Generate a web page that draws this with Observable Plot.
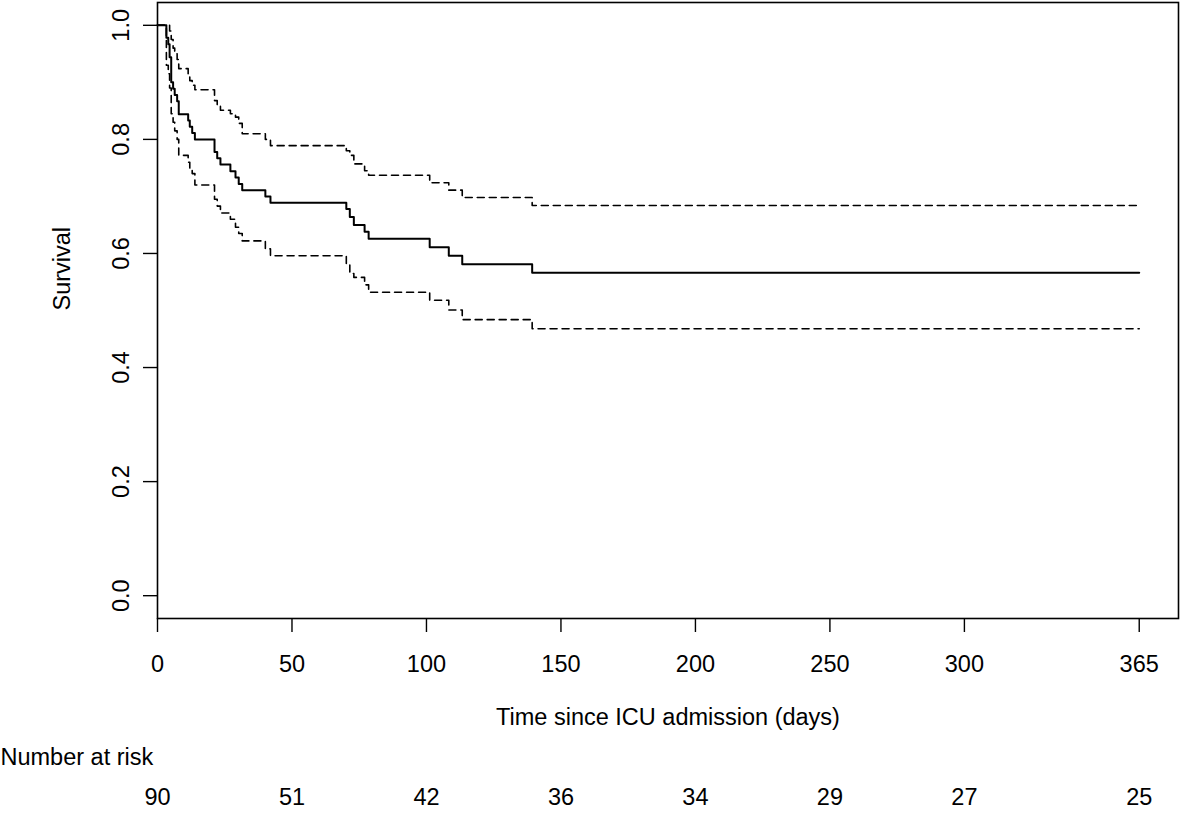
<!DOCTYPE html>
<html><head><meta charset="utf-8">
<script src="https://cdn.jsdelivr.net/npm/d3@7"></script>
<script src="https://cdn.jsdelivr.net/npm/@observablehq/plot@0.6"></script>
<style>body{margin:0;background:#fff}</style>
</head><body><div id="chart"></div>
<script>
// Kaplan-Meier estimate (days since ICU admission)
const time     = [0,3.3,4,4.5,5.1,5.8,6.4,7.3,7.9, 11.4,12,12.9,13.9, 21.2,22.2,23.4,27.1,29,30.2,31.5, 40.1,42, 70.2,71.5,73,77,78.5, 101.2,108.3,113.3,139.3, 365];
const survival = [1,0.978,0.967,0.944,0.9,0.889,0.878,0.867,0.844, 0.833,0.822,0.811,0.8, 0.778,0.767,0.756,0.744,0.733,0.722,0.711, 0.7,0.689, 0.678,0.664,0.65,0.638,0.626, 0.611,0.596,0.581,0.566, 0.566];
const upper    = [1,1,1,0.99,0.975,0.96,0.95,0.94,0.924, 0.912,0.903,0.895,0.887, 0.868,0.86,0.851,0.845,0.839,0.828,0.81, 0.8,0.789, 0.78,0.772,0.757,0.745,0.737, 0.724,0.711,0.698,0.684, 0.684];
const lower    = [1,0.93,0.915,0.89,0.845,0.83,0.815,0.8,0.772, 0.76,0.75,0.74,0.72, 0.695,0.683,0.671,0.66,0.646,0.635,0.622, 0.608,0.596, 0.58,0.565,0.558,0.545,0.532, 0.518,0.501,0.484,0.468, 0.468];
const xTicks = [0,50,100,150,200,250,300,365];
const yTicks = [0,0.2,0.4,0.6,0.8,1.0];
const riskTimes  = [0,50,100,150,200,250,300,365];
const riskCounts = [90,51,42,36,34,29,27,25];

const rows = time.map((t,i)=>({t, s: survival[i], u: upper[i], l: lower[i]}));
const risk = riskTimes.map((t,i)=>({t, n: riskCounts[i]}));

const chart = Plot.plot({
  width: 1181, height: 814,
  marginLeft: 157, marginRight: 3, marginTop: 2, marginBottom: 196,
  style: {fontFamily: "'Liberation Sans', Arial, Helvetica, sans-serif", fontSize: "23.5px", color: "black", background: "white"},
  x: {domain: [0, 379.6]},
  y: {domain: [-0.04, 1.04]},
  marks: [
    Plot.frame({stroke: "black", strokeWidth: 1.6}),
    Plot.axisX({ticks: xTicks, tickSize: 14, tickPadding: 23, tickFormat: d => String(d), label: null, strokeWidth: 1.4}),
    Plot.axisY({ticks: yTicks, tickSize: 14, tickPadding: 15, tickRotate: -90, tickFormat: d3.format(".1f"), label: null, strokeWidth: 1.4}),
    Plot.line(rows, {x: "t", y: "u", curve: "step-after", stroke: "black", strokeWidth: 1.6, strokeDasharray: "7,5"}),
    Plot.line(rows, {x: "t", y: "l", curve: "step-after", stroke: "black", strokeWidth: 1.6, strokeDasharray: "7,5"}),
    Plot.line(rows, {x: "t", y: "s", curve: "step-after", stroke: "black", strokeWidth: 2}),
    Plot.text(["Survival"], {frameAnchor: "left", dx: -95, rotate: -90}),
    Plot.text(["Time since ICU admission (days)"], {frameAnchor: "bottom", dy: 106}),
    Plot.text(["Number at risk"], {frameAnchor: "bottom-left", dx: -157, dy: 146, textAnchor: "start"}),
    Plot.text(risk, {x: "t", text: d => String(d.n), frameAnchor: "bottom", dy: 186})
  ]
});
document.getElementById("chart").append(chart);
</script>
</body></html>
